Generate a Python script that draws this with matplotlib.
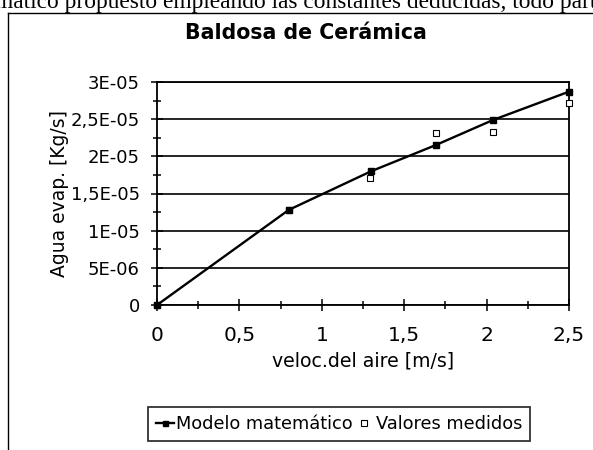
import numpy as np
import matplotlib
matplotlib.use("Agg")
import matplotlib.pyplot as plt
from matplotlib.lines import Line2D
from matplotlib.ticker import MultipleLocator, FuncFormatter

plt.rcParams["font.family"] = ["DejaVu Sans"]

# data
vel_modelo = [0.0, 0.8, 1.3, 1.69, 2.04, 2.5]
agua_modelo = [0.0, 1.28e-5, 1.80e-5, 2.15e-5, 2.49e-5, 2.87e-5]

vel_medido = [0.0, 0.8, 1.29, 1.69, 2.04, 2.5]
agua_medido = [0.0, 1.28e-5, 1.71e-5, 2.31e-5, 2.33e-5, 2.72e-5]

y_tick_labels = ["0", "5E-06", "1E-05", "1,5E-05", "2E-05", "2,5E-05", "3E-05"]


def fmt_x(v, pos):
    return f"{v:g}".replace(".", ",")


fig = plt.figure(figsize=(5.93, 4.5), dpi=100)
ax = fig.add_axes([157 / 593, 1 - 305 / 450, (569 - 157) / 593, (305 - 82) / 450])

ax.plot(vel_modelo, agua_modelo, color="black", lw=1.7, marker="s",
        ms=4.5, mfc="black", mec="black", label="Modelo matemático",
        zorder=4, clip_on=False)
ax.plot(vel_medido, agua_medido, ls="none", marker="s", ms=5,
        mfc="white", mec="black", mew=0.8, label="Valores medidos",
        zorder=3, clip_on=False)

ax.set_xlim(0, 2.5)
ax.set_ylim(0, 3e-5)
ax.xaxis.set_major_locator(MultipleLocator(0.5))
ax.xaxis.set_minor_locator(MultipleLocator(0.25))
ax.xaxis.set_major_formatter(FuncFormatter(fmt_x))
ax.set_yticks(np.arange(7) * 5e-6)
ax.set_yticklabels(y_tick_labels)
ax.yaxis.set_minor_locator(MultipleLocator(2.5e-6))

ax.tick_params(which="both", direction="inout", color="black", width=1.1)
ax.tick_params(which="major", length=8)
ax.tick_params(which="minor", length=6)
ax.tick_params(axis="x", labelsize=14.5, pad=11)
ax.tick_params(axis="y", labelsize=13, pad=8.5)

ax.grid(axis="y", which="major", color="black", lw=1.2)
for sp in ax.spines.values():
    sp.set_color("black")
    sp.set_linewidth(1.3)

ax.set_xlabel("veloc.del aire [m/s]", fontsize=13.6, labelpad=5)
ax.set_ylabel("Agua evap. [Kg/s]", fontsize=13.5, labelpad=1)

fig.text(306 / 593, 1 - 33 / 450, "Baldosa de Cerámica", ha="center", va="center",
         fontsize=14.8, fontweight="bold")

leg = fig.legend(loc="center", bbox_to_anchor=(339 / 593, 1 - 424 / 450),
                 ncol=2, fontsize=12.8, frameon=True, fancybox=False,
                 edgecolor="black", handlelength=1.0, handletextpad=0.15,
                 columnspacing=0.15, borderpad=0.45, borderaxespad=0,
                 markerscale=0.8)
leg.get_frame().set_linewidth(1.3)

# outer chart frame (left and top edges visible)
fig.add_artist(Line2D([8 / 593, 8 / 593], [0, 1 - 13 / 450],
                      transform=fig.transFigure, color="black", lw=1))
fig.add_artist(Line2D([8 / 593, 1], [1 - 13 / 450, 1 - 13 / 450],
                      transform=fig.transFigure, color="black", lw=1))

# cut-off document line above the chart
fig.text(-0.008, 1 - 8 / 450, "mático propuesto empleando las constantes deducidas, todo parte",
         ha="left", va="baseline", fontsize=16.8, family="Liberation Serif")

fig.savefig("out.png", dpi=100)
